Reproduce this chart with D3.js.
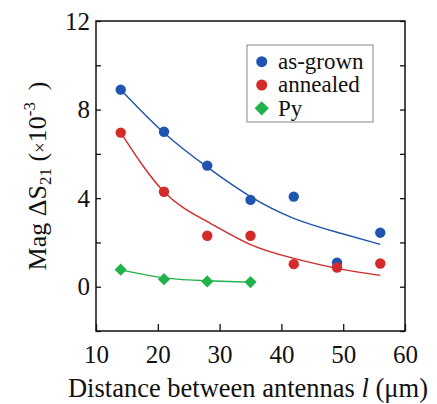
<!DOCTYPE html>
<html>
<head>
<meta charset="utf-8">
<script src="https://cdn.jsdelivr.net/npm/d3@7"></script>
<style>
  body { margin: 0; background: #fff; }
  text { font-family: "Liberation Serif", "Times New Roman", serif; fill: #111; }
</style>
</head>
<body>
<div id="chart"></div>
<script>
// measured points
const distances = [14, 21, 28, 35, 42, 49, 56];
const asGrown = [8.9, 7.0, 5.47, 3.92, 4.07, 1.08, 2.44];
const annealed = [6.96, 4.29, 2.3, 2.3, 1.02, 0.87, 1.05];
const pyDistances = [14, 21, 28, 35];
const py = [0.77, 0.34, 0.24, 0.21];

// fitted curves
const fitX = [14, 21, 28, 35, 42, 49, 56];
const asGrownFit = [8.9, 6.95, 5.4, 4.07, 3.09, 2.46, 1.91];
const annealedFit = [6.96, 4.29, 2.94, 1.9, 1.28, 0.83, 0.51];
const pyFitX = [14, 21, 28, 35];
const pyFit = [0.76, 0.4, 0.27, 0.2];

const xTicks = [10, 20, 30, 40, 50, 60];
const yLabelTicks = [0, 4, 8, 12];
const yAllTicks = [-2, 0, 2, 4, 6, 8, 10, 12];

const colors = {blue: '#1f55b0', red: '#d32a2a', green: '#22b24c'};

const svg = d3.select('#chart').append('svg')
    .attr('width', 437)
    .attr('height', 404);

const margin = {top: 21, right: 32, bottom: 73, left: 96},
    width = 437 - margin.left - margin.right,
    height = 404 - margin.top - margin.bottom;

const x = d3.scaleLinear().domain([10, 60]).range([0, width]);
const y = d3.scaleLinear().domain([-2, 12]).range([height, 0]);

const g = svg.append('g')
    .attr('transform', 'translate(' + margin.left + ',' + margin.top + ')');

// frame
g.append('rect')
    .attr('width', width)
    .attr('height', height)
    .attr('fill', 'none')
    .attr('stroke', '#111')
    .attr('stroke-width', 1.5);

function styleTicks(s) {
  s.select('.domain').remove();
  s.selectAll('line').attr('stroke', '#111').attr('stroke-width', 1.3);
  s.selectAll('text').attr('font-size', 25).attr('fill', '#111')
      .attr('font-family', '"Liberation Serif", serif');
}

// bottom axis, ticks pointing in
g.append('g')
    .attr('transform', 'translate(0,' + height + ')')
    .call(d3.axisBottom(x).tickValues(xTicks).tickSize(-7).tickPadding(14))
    .call(styleTicks);

// left axis
g.append('g')
    .call(d3.axisLeft(y).tickValues(yAllTicks).tickSize(-5).tickPadding(6)
        .tickFormat(d => yLabelTicks.includes(d) ? d : ''))
    .call(styleTicks);

// right axis, ticks only
g.append('g')
    .attr('transform', 'translate(' + width + ',0)')
    .call(d3.axisRight(y).tickValues(yAllTicks).tickSize(-5).tickFormat(''))
    .call(styleTicks);

// fit curves
const line = d3.line()
    .x(d => x(d[0]))
    .y(d => y(d[1]))
    .curve(d3.curveNatural);

const fits = [
  {xs: fitX, ys: asGrownFit, color: colors.blue},
  {xs: fitX, ys: annealedFit, color: colors.red},
  {xs: pyFitX, ys: pyFit, color: colors.green}
];
fits.forEach(f => {
  g.append('path')
      .datum(f.xs.map((v, i) => [v, f.ys[i]]))
      .attr('fill', 'none')
      .attr('stroke', f.color)
      .attr('stroke-width', 1.4)
      .attr('d', line);
});

// points
function dots(xs, ys, color) {
  g.append('g').selectAll('circle')
      .data(xs.map((v, i) => [v, ys[i]]))
      .join('circle')
      .attr('cx', d => x(d[0]))
      .attr('cy', d => y(d[1]))
      .attr('r', 5.2)
      .attr('fill', color);
}
dots(distances, asGrown, colors.blue);
dots(distances, annealed, colors.red);

const diamond = d3.symbol().type(d3.symbolDiamond2).size(95);
g.append('g').selectAll('path')
    .data(pyDistances.map((v, i) => [v, py[i]]))
    .join('path')
    .attr('transform', d => 'translate(' + x(d[0]) + ',' + y(d[1]) + ')')
    .attr('d', diamond)
    .attr('fill', colors.green);

// legend
const legend = svg.append('g').attr('transform', 'translate(247,45)');
legend.append('rect')
    .attr('width', 126)
    .attr('height', 77)
    .attr('fill', '#fff')
    .attr('stroke', '#888')
    .attr('stroke-width', 1);

const legendItems = [
  {label: 'as-grown', color: colors.blue, shape: 'circle'},
  {label: 'annealed', color: colors.red, shape: 'circle'},
  {label: 'Py', color: colors.green, shape: 'diamond'}
];
legendItems.forEach((d, i) => {
  const cy = 16.7 + i * 23.3;
  if (d.shape === 'circle') {
    legend.append('circle').attr('cx', 14.7).attr('cy', cy).attr('r', 5.5).attr('fill', d.color);
  } else {
    legend.append('path')
        .attr('transform', 'translate(14.7,' + cy + ')')
        .attr('d', d3.symbol().type(d3.symbolDiamond2).size(130))
        .attr('fill', d.color);
  }
  legend.append('text')
      .attr('x', 31)
      .attr('y', cy + 7.4)
      .attr('font-size', 23)
      .text(d.label);
});

// x title
const xt = svg.append('text')
    .attr('x', 248)
    .attr('y', 397)
    .attr('text-anchor', 'middle')
    .attr('font-size', 26.5);
xt.append('tspan').text('Distance between antennas ');
xt.append('tspan').attr('font-style', 'italic').text('l');
xt.append('tspan').text(' (μm)');

// y title
const yt = svg.append('text')
    .attr('transform', 'translate(46,' + (margin.top + y(5)) + ') rotate(-90)')
    .attr('text-anchor', 'middle')
    .attr('font-size', 26);
yt.append('tspan').text('Mag ΔS');
yt.append('tspan').attr('font-size', 17).attr('dy', 5).text('21');
yt.append('tspan').attr('dy', -5).text(' (');
yt.append('tspan').attr('font-size', 19).text('×');
yt.append('tspan').text('10');
yt.append('tspan').attr('font-size', 17).attr('dy', -11).text('-3');
yt.append('tspan').attr('dy', 11).text(' \u2009)');
</script>
</body>
</html>
